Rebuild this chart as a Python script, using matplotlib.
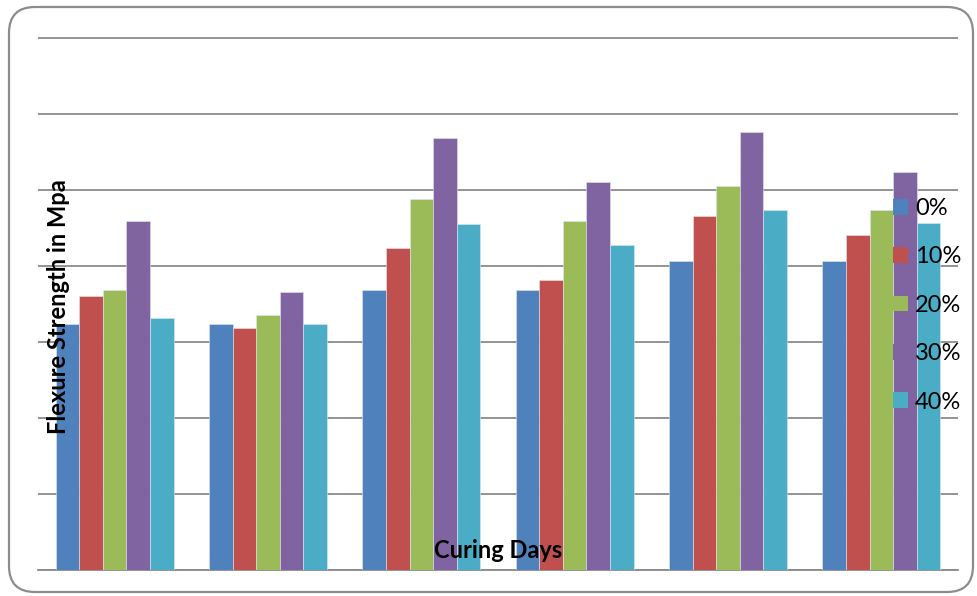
import numpy as np
import matplotlib
matplotlib.use("Agg")
import matplotlib.pyplot as plt
from matplotlib.patches import FancyBboxPatch

plt.rcParams['font.family'] = ['Lato', 'DejaVu Sans']

# Flexural strength (MPa) for six curing ages and five replacement levels
groups = ["G1", "G2", "G3", "G4", "G5", "G6"]
series_names = ["0%", "10%", "20%", "30%", "40%"]
s0 = [3.23, 3.23, 3.68, 3.68, 4.07, 4.07]
s10 = [3.60, 3.18, 4.24, 3.82, 4.65, 4.40]
s20 = [3.68, 3.35, 4.88, 4.59, 5.05, 4.74]
s30 = [4.59, 3.65, 5.68, 5.10, 5.76, 5.24]
s40 = [3.32, 3.23, 4.55, 4.27, 4.74, 4.57]
colors = ["#4F81BD", "#C0504D", "#9BBB59", "#8064A2", "#4BACC6"]

W, H = 977, 596
fig = plt.figure(figsize=(W / 100, H / 100), dpi=100)
ax = fig.add_axes([38 / W, (H - 570) / H, 920 / W, 533 / H])

x = np.arange(len(groups))
bw = 1 / 6.5
for i, (vals, c, name) in enumerate(zip([s0, s10, s20, s30, s40], colors, series_names)):
    ax.bar(x + (i - 2) * bw, vals, width=bw, color=c, label=name,
           edgecolor="#dfe7f0", linewidth=0.4, zorder=3)

ax.set_xlim(-0.5, len(groups) - 0.5)
ax.set_ylim(0, 7.01)
ax.set_yticks(np.arange(0, 8, 1))
ax.set_xticks([])
ax.tick_params(axis="y", length=0, labelleft=False)
ax.grid(axis="y", color="#8a8a8a", linewidth=1.3, zorder=0)
for side in ["left", "right", "top"]:
    ax.spines[side].set_visible(False)
ax.spines["bottom"].set_color("#8a8a8a")
ax.spines["bottom"].set_linewidth(1.3)

leg = ax.legend(loc="upper left", bbox_to_anchor=(893 / W, (H - 198) / H),
                bbox_transform=fig.transFigure, frameon=False, fontsize=17,
                handlelength=0.64, handleheight=0.64, handletextpad=0.3,
                labelspacing=1.16, borderpad=0, borderaxespad=0)
leg.set_zorder(10)
for h in leg.legend_handles:
    h.set_edgecolor("none")

fig.text(59 / W, (H - 307) / H, "Flexure Strength in Mpa", rotation=90,
         ha="center", va="center", fontsize=17, fontweight="bold", zorder=10)
fig.text(498 / W, (H - 550) / H, "Curing Days", ha="center", va="center",
         fontsize=17, fontweight="bold", zorder=10)

border = FancyBboxPatch((9, 4), 964, 585, boxstyle="round,pad=0,rounding_size=26",
                        transform=None, facecolor="none", edgecolor="#8c8c8c",
                        linewidth=1.6, zorder=20)
fig.patches.append(border)

fig.savefig("out.png", dpi=100)
